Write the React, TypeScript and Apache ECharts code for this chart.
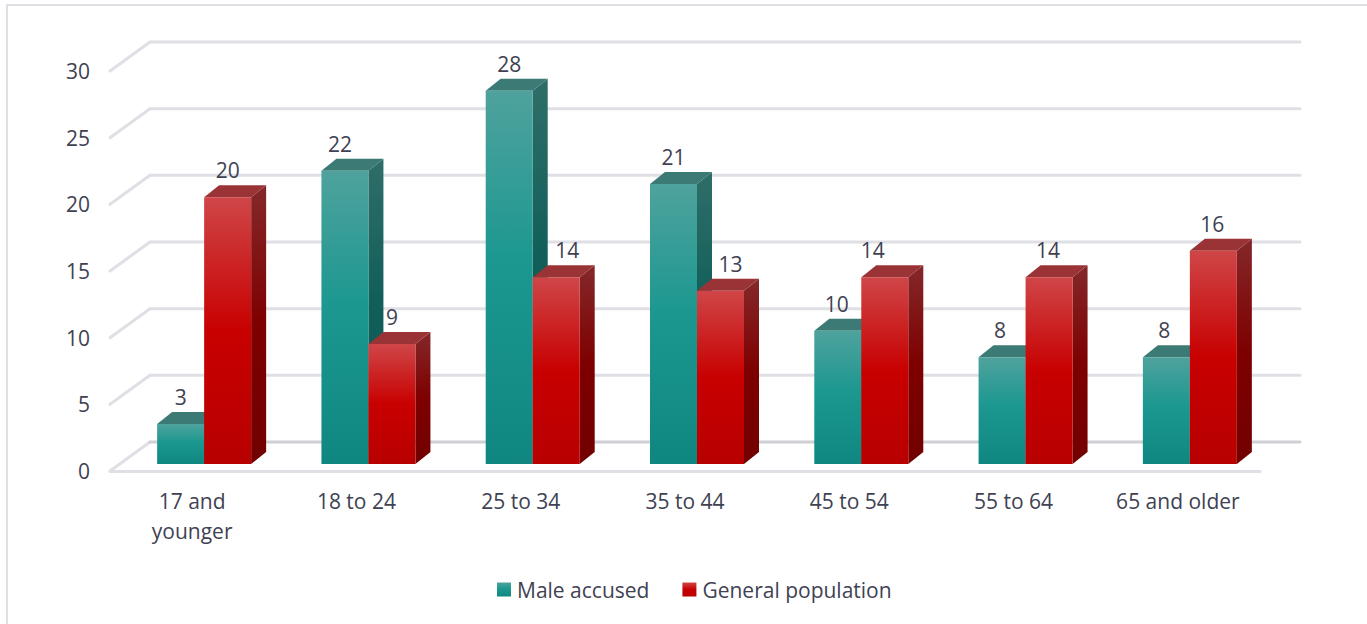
import React, { useEffect, useRef } from "react";
import * as echarts from "echarts";

const categories = ["17 and\nyounger", "18 to 24", "25 to 34", "35 to 44", "45 to 54", "55 to 64", "65 and older"];
const maleAccused = [3, 22, 28, 21, 10, 8, 8];
const generalPopulation = [20, 9, 14, 13, 14, 14, 16];
const yTicks = [0, 5, 10, 15, 20, 25, 30];
const maleLabelNudge = [0, -5, 0, 0, -1, -2, -2];
const generalLabelNudge = [0, 0, 11, 10, -12, -1, -1];

const TEXT = "#404252";
const GRID = "#dfdfe6";
const BASE_GRID = "#cfcfd6";
const BAR_W = 47;
const DX = 15;
const DY = 12;
const FLOOR_DY = 7;
const CENTER_SHIFT = 12;
const FONT = '"Open Sans", sans-serif';

const vGrad = (stops: [number, string][]) => ({
  type: "linear", x: 0, y: 0, x2: 0, y2: 1,
  colorStops: stops.map(([offset, color]) => ({ offset, color })),
});

const palettes = {
  male: {
    front: [[0, "#4fa29d"], [0.45, "#1c9890"], [1, "#0f8780"]] as [number, string][],
    side: [[0, "#2f6e69"], [0.45, "#125f5a"], [1, "#0b5450"]] as [number, string][],
    top: "#3c7a75",
  },
  general: {
    front: [[0, "#cf4648"], [0.5, "#c80000"], [1, "#b80000"]] as [number, string][],
    side: [[0, "#84282a"], [0.5, "#7e0000"], [1, "#720000"]] as [number, string][],
    top: "#993335",
  },
};

const barSeries = (name: string, values: number[], nudges: number[], pal: typeof palettes.male, x0: number) => ({
  name,
  type: "custom",
  z: 5,
  data: values.map((v, i) => [i, v]),
  renderItem: (_p: any, api: any) => {
    const cat = api.value(0);
    const val = api.value(1);
    const [cx, yTop0] = api.coord([cat, val]);
    const [, yBase0] = api.coord([cat, 0]);
    const l = cx + x0;
    const r = l + BAR_W;
    const t = yTop0 - FLOOR_DY;
    const b = yBase0 - FLOOR_DY;
    return {
      type: "group",
      children: [
        { type: "polygon", shape: { points: [[r, t], [r + DX, t - DY], [r + DX, b - DY], [r, b]] }, style: { fill: vGrad(pal.side) } },
        { type: "polygon", shape: { points: [[l, t], [l + DX, t - DY], [r + DX, t - DY], [r, t]] }, style: { fill: pal.top } },
        { type: "rect", shape: { x: l, y: t, width: BAR_W, height: b - t }, style: { fill: vGrad(pal.front) } },
        {
          type: "text",
          x: l + BAR_W / 2 + nudges[cat],
          y: t - DY - 15,
          style: {
            text: String(val),
            fill: TEXT,
            font: `21px ${FONT}`,
            align: "center",
            verticalAlign: "middle",
          },
        },
      ],
    };
  },
});

export default function App() {
  const ref = useRef<HTMLDivElement>(null);
  useEffect(() => {
    const chart = echarts.init(ref.current!, undefined, { renderer: "svg" });
    chart.setOption({
      animation: false,
      backgroundColor: "#fff",
      textStyle: { fontFamily: FONT },
      grid: { left: 110, right: 107, top: 71, bottom: 153, containLabel: false },
      legend: {
        data: [
          { name: "Male accused", icon: "rect", itemStyle: { color: vGrad(palettes.male.front) } },
          { name: "General population", icon: "rect", itemStyle: { color: vGrad(palettes.general.front) } },
        ],
        left: 497,
        top: 579,
        itemWidth: 14,
        itemHeight: 14,
        itemGap: 33,
        padding: 0,
        textStyle: { color: TEXT, fontSize: 21, padding: [0, 0, 0, 1] },
      },
      xAxis: {
        type: "category",
        data: categories,
        axisTick: { show: false },
        axisLine: { show: true, lineStyle: { color: GRID, width: 3 } },
        axisLabel: { color: TEXT, fontSize: 21, margin: 15, lineHeight: 30, interval: 0 },
      },
      yAxis: {
        type: "value",
        min: 0,
        max: 30,
        interval: 5,
        splitLine: { show: false },
        axisTick: { show: false },
        axisLine: { show: false },
        axisLabel: { color: TEXT, fontSize: 21, margin: 20, padding: [3, 0, 0, 0] },
      },
      series: [
        {
          name: "wall",
          type: "custom",
          z: 1,
          silent: true,
          data: yTicks.map((t) => [0, t]),
          renderItem: (p: any, api: any) => {
            const tick = api.value(1);
            const [, y0] = api.coord([0, tick]);
            const left = p.coordSys.x;
            const right = p.coordSys.x + p.coordSys.width;
            const line = (x1: number, y1: number, x2: number, y2: number, stroke: string) => ({
              type: "line",
              shape: { x1, y1, x2, y2 },
              style: { stroke, lineWidth: 3, lineCap: "round" },
            });
            return {
              type: "group",
              children: [
                line(left, y0, left + 40, y0 - 29, GRID),
                line(left + 40, y0 - 29, right + 40, y0 - 29, tick === 0 ? BASE_GRID : GRID),
              ],
            };
          },
        },
        barSeries("Male accused", maleAccused, maleLabelNudge, palettes.male, CENTER_SHIFT - BAR_W),
        barSeries("General population", generalPopulation, generalLabelNudge, palettes.general, CENTER_SHIFT),
      ],
      graphic: [
        { type: "rect", silent: true, shape: { x: 7, y: 5, width: 2000, height: 1000 }, style: { fill: "none", stroke: GRID, lineWidth: 2 } },
      ],
    });
    return () => chart.dispose();
  }, []);
  return <div ref={ref} style={{ position: "absolute", left: 0, top: 0, width: 1367, height: 624 }} />;
}
